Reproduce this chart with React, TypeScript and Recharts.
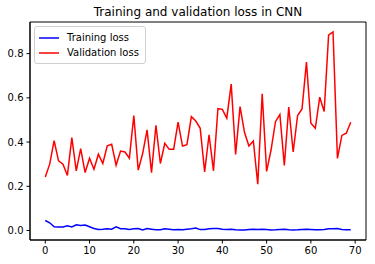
import { Legend, Line, LineChart, ReferenceArea, XAxis, YAxis } from "recharts";

const epochs = [
  0, 1, 2, 3, 4, 5, 6, 7, 8, 9, 10, 11, 12, 13, 14, 15, 16, 17, 18, 19, 20, 21, 22, 23, 24, 25, 26, 27, 28, 29, 30, 31, 32,
  33, 34, 35, 36, 37, 38, 39, 40, 41, 42, 43, 44, 45, 46, 47, 48, 49, 50, 51, 52, 53, 54, 55, 56, 57, 58, 59, 60, 61, 62,
  63, 64, 65, 66, 67, 68, 69,
];

const trainingLoss = [
  0.045, 0.035, 0.017, 0.016, 0.016, 0.021, 0.016, 0.026, 0.023, 0.025, 0.017, 0.009, 0.005, 0.006, 0.008, 0.006, 0.017,
  0.008, 0.008, 0.005, 0.008, 0.009, 0.002, 0.009, 0.006, 0.003, 0.003, 0.008, 0.006, 0.003, 0.005, 0.003, 0.006, 0.008,
  0.011, 0.004, 0.005, 0.008, 0.009, 0.009, 0.006, 0.005, 0.006, 0.003, 0.002, 0.002, 0.005, 0.006, 0.005, 0.006, 0.005,
  0.002, 0.003, 0.005, 0.006, 0.003, 0.002, 0.003, 0.005, 0.006, 0.005, 0.003, 0.003, 0.005, 0.008, 0.008, 0.009, 0.005,
  0.003, 0.003,
];

const validationLoss = [
  0.242, 0.3, 0.406, 0.315, 0.3, 0.249, 0.42, 0.27, 0.37, 0.262, 0.327, 0.277, 0.345, 0.303, 0.383, 0.39, 0.295, 0.359,
  0.355, 0.327, 0.52, 0.273, 0.348, 0.455, 0.262, 0.476, 0.303, 0.394, 0.367, 0.367, 0.49, 0.382, 0.388, 0.515, 0.495,
  0.462, 0.265, 0.433, 0.27, 0.551, 0.548, 0.508, 0.662, 0.344, 0.56, 0.444, 0.382, 0.405, 0.209, 0.618, 0.267, 0.364,
  0.492, 0.524, 0.294, 0.558, 0.355, 0.52, 0.55, 0.762, 0.485, 0.462, 0.603, 0.538, 0.883, 0.898, 0.326, 0.43, 0.44, 0.49,
];

const xTicks = [0, 10, 20, 30, 40, 50, 60, 70];
const yTicks = [0, 0.2, 0.4, 0.6, 0.8];

const xDomain = [-3.45, 72.45];
const yDomain = [-0.043, 0.943];

const data = epochs.map((epoch, i) => ({
  epoch,
  train: trainingLoss[i],
  val: validationLoss[i],
}));

const font = "'DejaVu Sans', sans-serif";
const tickStyle = { fontSize: 10, fill: "#000", fontFamily: font };

function LegendBox({ payload }: any) {
  return (
    <div
      style={{
        border: "1px solid #d0d0d0",
        borderRadius: 3,
        background: "rgba(255,255,255,0.8)",
        padding: "3px 6px 3px 4px",
        fontFamily: font,
        fontSize: 10,
        lineHeight: "15px",
        color: "#000",
      }}
    >
      {(payload || []).map((p: any) => (
        <div key={p.value} style={{ display: "flex", alignItems: "center" }}>
          <svg width={20} height={4} style={{ marginRight: 8 }}>
            <line x1={0} y1={2} x2={20} y2={2} stroke={p.payload?.stroke || p.color} strokeWidth={1.5} />
          </svg>
          <span>{p.value}</span>
        </div>
      ))}
    </div>
  );
}

export default function App() {
  return (
    <div style={{ position: "absolute", left: 0, top: 0, width: 375, height: 264, background: "#fff" }}>
      <div
        style={{
          position: "absolute",
          left: 30,
          width: 336,
          top: 5,
          textAlign: "center",
          fontFamily: font,
          fontSize: 12,
          color: "#000",
        }}
      >
        Training and validation loss in CNN
      </div>
      <LineChart width={375} height={264} data={data} margin={{ top: 22, right: 9, left: 0, bottom: 0 }}>
        <XAxis
          dataKey="epoch"
          type="number"
          domain={xDomain}
          ticks={xTicks}
          allowDataOverflow
          height={24}
          stroke="#000"
          tick={tickStyle}
          tickSize={3.5}
          tickMargin={3}
        />
        <YAxis
          type="number"
          domain={yDomain}
          ticks={yTicks}
          allowDataOverflow
          width={30}
          stroke="#000"
          tick={tickStyle}
          tickSize={3.5}
          tickMargin={3}
          tickFormatter={(v: number) => v.toFixed(1)}
        />
        <ReferenceArea
          x1={xDomain[0]}
          x2={xDomain[1]}
          y1={yDomain[0]}
          y2={yDomain[1]}
          fill="none"
          stroke="#000"
          strokeWidth={1}
          ifOverflow="visible"
        />
        <Legend
          layout="vertical"
          align="center"
          verticalAlign="middle"
          wrapperStyle={{ left: 34, top: 26, width: "auto" }}
          content={<LegendBox />}
        />
        <Line
          dataKey="train"
          name="Training loss"
          stroke="#0000ff"
          strokeWidth={1.5}
          dot={false}
          isAnimationActive={false}
        />
        <Line
          dataKey="val"
          name="Validation loss"
          stroke="#ff0000"
          strokeWidth={1.5}
          dot={false}
          isAnimationActive={false}
        />
      </LineChart>
    </div>
  );
}
